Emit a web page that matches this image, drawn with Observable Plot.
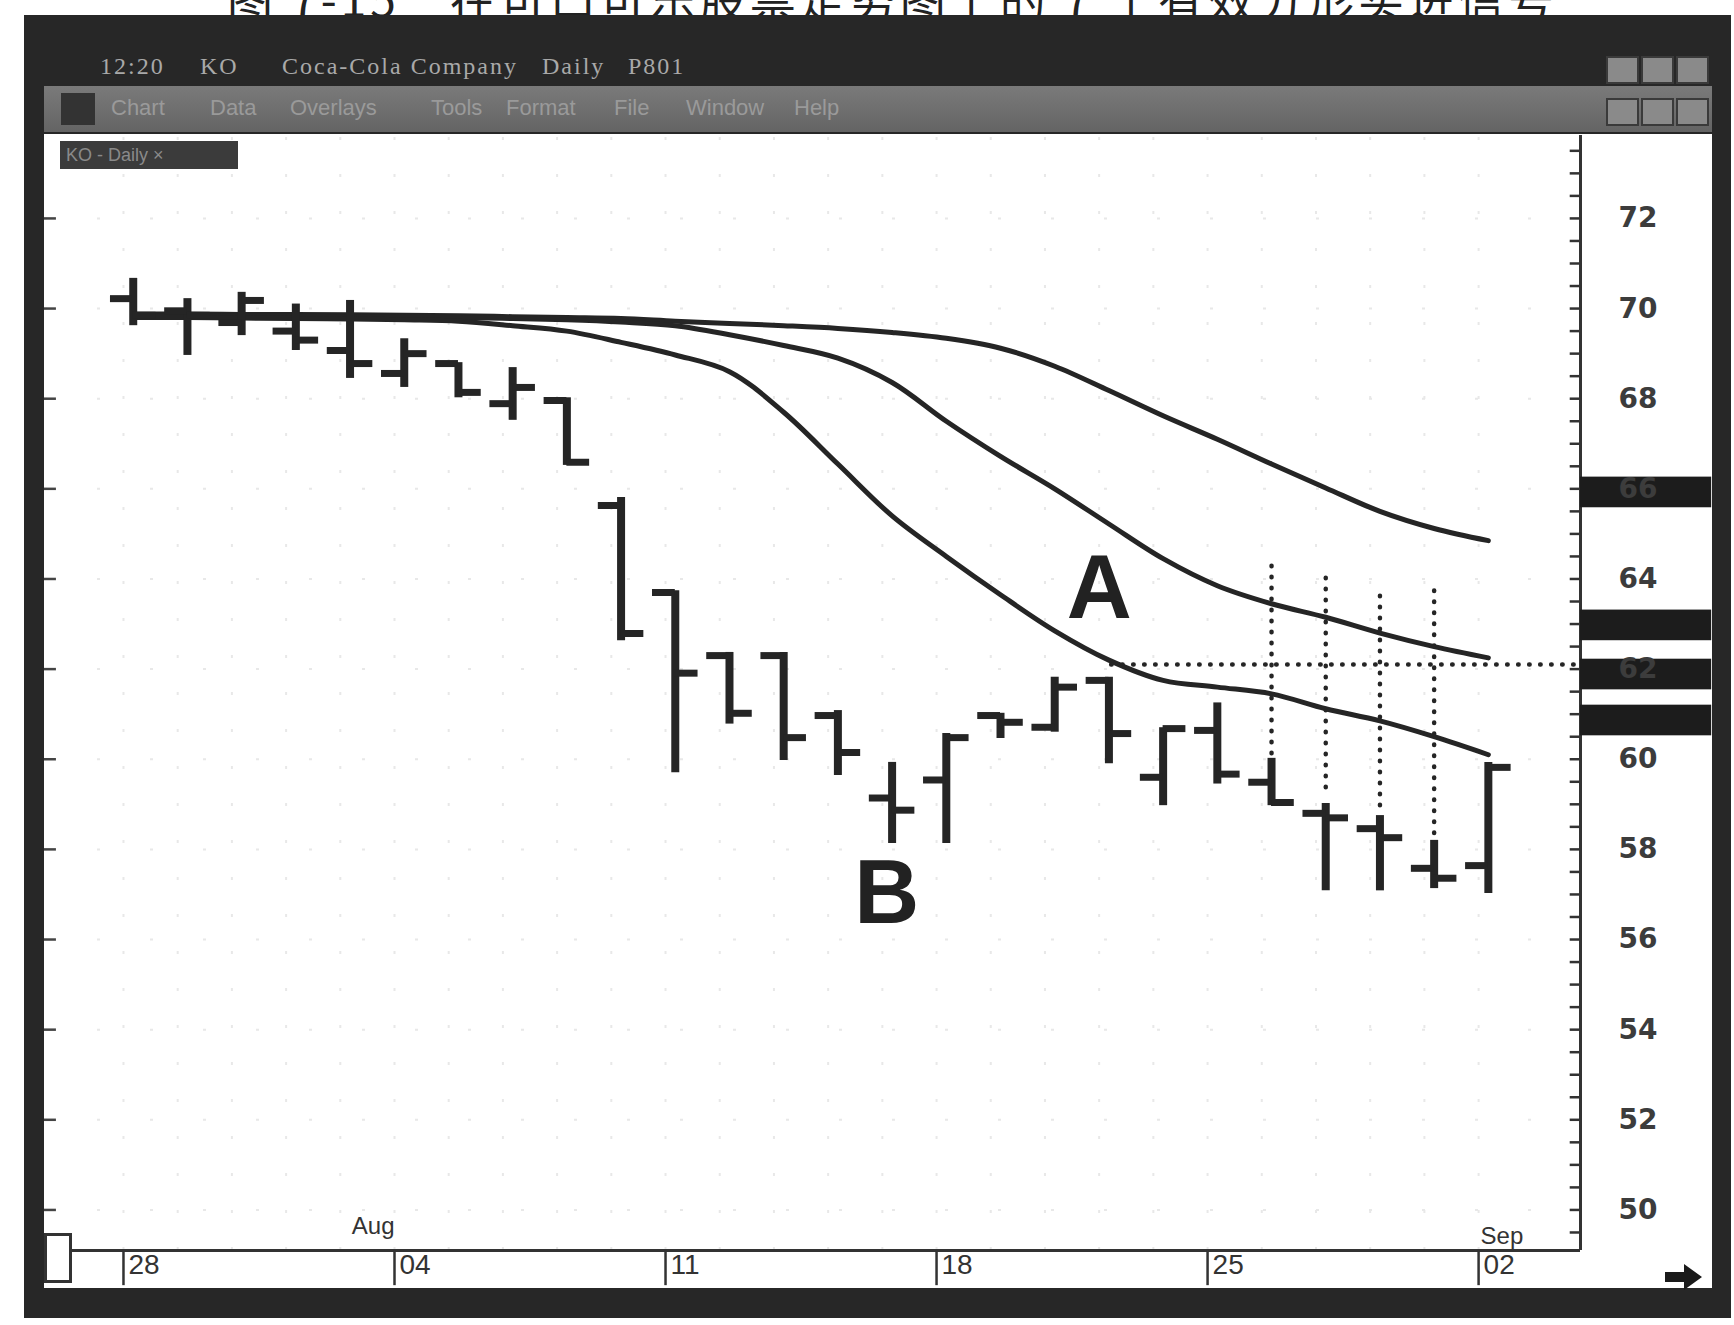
<!DOCTYPE html>
<html>
<head>
<meta charset="utf-8">
<script src="https://cdn.jsdelivr.net/npm/d3@7"></script>
<script src="https://cdn.jsdelivr.net/npm/@observablehq/plot@0.6"></script>
<style>
html,body{margin:0;padding:0;background:#fff;}
#page{position:relative;width:1734px;height:1325px;overflow:hidden;background:#fff;font-family:"Liberation Sans",Arial,sans-serif;}
.abs{position:absolute;}
#caption{left:227px;top:-26px;font-family:"Noto Sans CJK SC",sans-serif;font-size:46px;line-height:46px;color:#222;letter-spacing:4px;white-space:nowrap;}
#frame{left:24px;top:15px;width:1707px;height:1303px;background:#272727;}
#menubar{left:44px;top:86px;width:1668px;height:46px;background:linear-gradient(#7a7a7a,#646464);}
#inner{left:44px;top:134px;width:1668px;height:1154px;background:#fff;}
.tt{top:53px;font-family:"Liberation Serif",serif;font-size:24px;color:#a9a9a9;letter-spacing:2px;white-space:nowrap;}
.mi{top:95px;font-family:"Liberation Sans",sans-serif;font-size:22px;color:#9a9a9a;white-space:nowrap;}
.btn{width:29px;height:24px;background:#8a8a8a;border:2px solid #3a3a3a;}
#tab{left:60px;top:141px;width:178px;height:28px;background:#3b3b3b;color:#8a8a8a;font-size:18px;line-height:28px;padding-left:6px;box-sizing:border-box;white-space:nowrap;}
#box{left:44px;top:1233px;width:22px;height:44px;background:#fff;border:3px solid #333;}
#chart{left:44px;top:135px;width:1668px;}
</style>
</head>
<body>
<div id="page">
  <div class="abs" id="caption">图 7-15　在可口可乐股票走势图上的 7 个有效分形买进信号</div>
  <div class="abs" id="frame"></div>
  <div class="abs tt" style="left:100px">12:20</div>
  <div class="abs tt" style="left:200px">KO</div>
  <div class="abs tt" style="left:282px">Coca-Cola Company</div>
  <div class="abs tt" style="left:542px">Daily</div>
  <div class="abs tt" style="left:628px">P801</div>
  <div class="abs btn" style="left:1606px;top:56px"></div>
  <div class="abs btn" style="left:1641px;top:56px"></div>
  <div class="abs btn" style="left:1676px;top:56px"></div>
  <div class="abs" id="menubar"></div>
  <div class="abs" style="left:61px;top:93px;width:34px;height:32px;background:#333"></div>
  <div class="abs mi" style="left:111px">Chart</div>
  <div class="abs mi" style="left:210px">Data</div>
  <div class="abs mi" style="left:290px">Overlays</div>
  <div class="abs mi" style="left:431px">Tools</div>
  <div class="abs mi" style="left:506px">Format</div>
  <div class="abs mi" style="left:614px">File</div>
  <div class="abs mi" style="left:686px">Window</div>
  <div class="abs mi" style="left:794px">Help</div>
  <div class="abs btn" style="left:1606px;top:98px"></div>
  <div class="abs btn" style="left:1641px;top:98px"></div>
  <div class="abs btn" style="left:1676px;top:98px"></div>
  <div class="abs" id="inner"></div>
  <div class="abs" id="chart"></div>
  <div class="abs" id="tab">KO - Daily ×</div>
  <div class="abs" id="box"></div>
  <svg class="abs" style="left:1664px;top:1262px" width="40" height="30"><path d="M1,10 H20 V2 L38,15 L20,28 V20 H1 Z" fill="#1a1a1a"/></svg>
</div>
<script>
// ---- data (Coca-Cola daily, Jul 28 – Sep 02) ----
const dates = ["07-28","07-29","07-30","07-31","08-01","08-04","08-05","08-06","08-07","08-08","08-11","08-12","08-13","08-14","08-15","08-18","08-19","08-20","08-21","08-22","08-25","08-26","08-27","08-28","08-29","09-02"];
const opens  = [70.22,69.95,69.69,69.50,69.07,68.56,68.78,67.89,67.96,65.63,63.70,62.30,62.30,60.97,59.14,59.54,60.97,60.71,61.75,59.60,60.64,59.49,58.80,58.46,57.58,57.64];
const highs  = [70.67,70.22,70.36,70.10,70.18,69.33,68.80,68.69,68.02,65.81,63.74,62.37,62.37,61.08,59.93,60.57,61.02,61.82,61.82,60.70,61.25,60.02,59.02,58.75,58.20,59.93];
const lows   = [69.62,68.96,69.40,69.07,68.45,68.25,68.02,67.52,66.52,62.63,59.70,60.78,59.97,59.64,58.13,58.13,60.46,60.60,59.90,58.97,59.45,58.97,57.08,57.08,57.13,57.02];
const closes = [69.85,69.85,70.18,69.30,68.78,69.00,68.14,68.25,66.59,62.79,61.91,61.02,60.48,60.15,58.87,60.48,60.82,61.60,60.57,60.68,59.67,59.04,58.70,58.26,57.36,59.82];
const jaw   = [69.88,69.88,69.87,69.87,69.86,69.85,69.84,69.82,69.80,69.78,69.72,69.67,69.62,69.56,69.47,69.34,69.12,68.72,68.18,67.62,67.10,66.55,66.02,65.50,65.12,64.85];
const teeth = [69.84,69.84,69.83,69.83,69.82,69.81,69.80,69.78,69.75,69.70,69.62,69.42,69.18,68.90,68.36,67.50,66.72,66.00,65.22,64.45,63.85,63.45,63.15,62.80,62.50,62.25];
const lips  = [69.80,69.80,69.79,69.78,69.77,69.75,69.72,69.62,69.50,69.25,68.97,68.60,67.70,66.55,65.40,64.50,63.65,62.85,62.20,61.75,61.60,61.45,61.12,60.85,60.50,60.10];
const weekLabels = ["28","04","11","18","25","02"];
const weekStarts = [0,5,10,15,20,25];
const monthLabels = ["Aug","Sep"];
const monthStarts = [5,25];
const priceLabels = [50,52,54,56,58,60,62,64,66,68,70,72];
const markerLevels = [65.92,62.97,61.88,60.86];
const fractalBars = [21,22,23,24];
const fractalTops = [64.45,64.12,63.81,63.81];
const fractalBottoms = [60.12,59.37,58.97,58.35];
const signalLevel = 62.1;
const signalFromBar = 18.05;
const annotations = ["A","B"];
const annotationBar = [17.82,13.9];
const annotationLevel = [63.77,57.0];

// ---- scales ----
const xmin = -1.637, xmax = 26.70, ymin = 49.10, ymax = 73.84;
const tickOff = 0.18;          // week boundary offset (in bars)
const ink = "#252525";

const bars = dates.map((d,i)=>({i, date:d, open:opens[i], high:highs[i], low:lows[i], close:closes[i]}));
const mk = arr => arr.map((v,i)=>({i, v}));
const fractals = fractalBars.map((b,k)=>({i:b, top:fractalTops[k], bottom:fractalBottoms[k]}));
const weeks = weekStarts.map((s,k)=>({x:s - tickOff, label:weekLabels[k]}));
const months = monthStarts.map((s,k)=>({x:s - tickOff, label:monthLabels[k], k}));
const notes = annotations.map((t,k)=>({t, i:annotationBar[k], v:annotationLevel[k]}));
const minorTicks = d3.range(49.5, 73.6, 0.5);
const evenTicks = d3.range(50, 74, 2);

const chart = Plot.plot({
  width: 1668, height: 1148,
  marginTop: 0, marginLeft: 0, marginRight: 132, marginBottom: 33,
  x: {domain: [xmin, xmax], axis: null},
  y: {domain: [ymin, ymax], axis: null},
  style: {background: "transparent", overflow: "visible"},
  marks: [
    // faint dotted grid
    Plot.ruleX(d3.range(0, 26), {x: d => d - tickOff, y1: ymin, y2: ymax, stroke: "#e8e8e8", strokeWidth: 2, strokeDasharray: "3,34"}),
    Plot.ruleY(evenTicks, {y: d => d, x1: xmin, x2: xmax, stroke: "#e8e8e8", strokeWidth: 2, strokeDasharray: "3,50"}),
    // alligator lines
    Plot.line(mk(jaw),   {x: "i", y: "v", stroke: ink, strokeWidth: 5, curve: "catmull-rom"}),
    Plot.line(mk(teeth), {x: "i", y: "v", stroke: ink, strokeWidth: 5, curve: "catmull-rom"}),
    Plot.line(mk(lips),  {x: "i", y: "v", stroke: ink, strokeWidth: 5, curve: "catmull-rom"}),
    // fractal signal dotted lines
    Plot.ruleY([signalLevel], {y: d => d, x1: signalFromBar, x2: xmax, stroke: ink, strokeWidth: 4.5, strokeDasharray: "0.5,10.5", strokeLinecap: "round"}),
    Plot.ruleX(fractals, {x: "i", y1: "bottom", y2: "top", stroke: ink, strokeWidth: 4.5, strokeDasharray: "0.5,10.5", strokeLinecap: "round"}),
    // OHLC bars
    Plot.ruleX(bars, {x: "i", y1: "low", y2: "high", stroke: ink, strokeWidth: 8}),
    Plot.ruleY(bars, {y: "open", x1: d => d.i - 0.42, x2: d => d.i, stroke: ink, strokeWidth: 7}),
    Plot.ruleY(bars, {y: "close", x1: d => d.i, x2: d => d.i + 0.42, stroke: ink, strokeWidth: 7}),
    // A / B annotations
    Plot.text(notes, {x: "i", y: "v", text: "t", fontSize: 90, fontWeight: "bold", fontFamily: "Liberation Sans", fill: "#222", lineAnchor: "middle"}),
    // axes lines
    Plot.ruleX([xmax], {x: d => d, y1: ymin, y2: ymax, stroke: "#333", strokeWidth: 3}),
    Plot.ruleY([ymin], {y: d => d, x1: xmin, x2: xmax, stroke: "#333", strokeWidth: 3}),
    Plot.ruleY(minorTicks, {y: d => d, x1: xmax - 0.19, x2: xmax, stroke: "#333", strokeWidth: 2.5}),
    Plot.ruleY(evenTicks, {y: d => d, x1: xmin, x2: xmin + 0.22, stroke: "#444", strokeWidth: 2.5}),
    // week ticks and labels
    Plot.ruleX(weeks, {x: "x", y1: ymin, y2: ymin - 0.78, stroke: "#333", strokeWidth: 2.5}),
    Plot.text(weeks, {x: "x", y: ymin, text: "label", dx: 5, dy: 15, textAnchor: "start", lineAnchor: "middle", fontSize: 28, fontFamily: "Liberation Sans", fill: "#333"}),
    Plot.text(months.filter(d => d.k === 0), {x: "x", y: ymin, text: "label", dx: 0, dy: -24, textAnchor: "end", lineAnchor: "middle", fontSize: 24, fontFamily: "Liberation Sans", fill: "#333"}),
    Plot.text(months.filter(d => d.k === 1), {x: "x", y: ymin, text: "label", dx: 2, dy: -14, textAnchor: "start", lineAnchor: "middle", fontSize: 24, fontFamily: "Liberation Sans", fill: "#333"}),
    // black price markers on the right scale
    Plot.rect(markerLevels, {x1: xmax, x2: xmax + 2.42, y1: d => d - 0.34, y2: d => d + 0.34, fill: "#1c1c1c"}),
    // price labels
    Plot.axisY(priceLabels, {anchor: "right", tickSize: 0, tickPadding: 38, fontSize: 28, fontWeight: "bold", fontFamily: "DejaVu Sans", fill: "#3c3c3c", tickFormat: d => String(d), label: null})
  ]
});
document.getElementById("chart").appendChild(chart);
</script>
</body>
</html>
